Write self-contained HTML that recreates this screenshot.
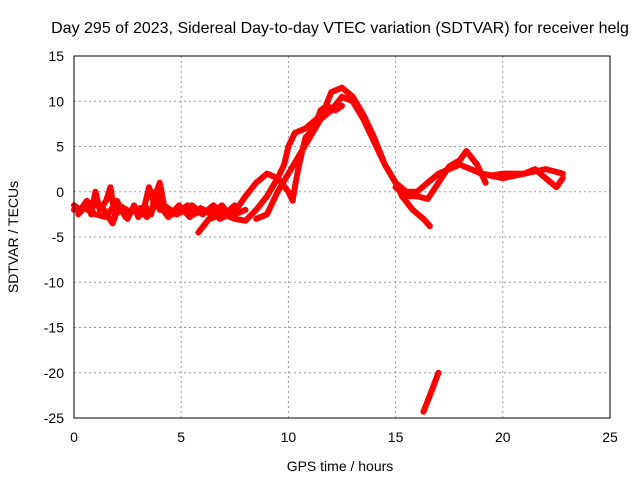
<!DOCTYPE html>
<html><head><meta charset="utf-8"><style>
body{margin:0;background:#fff}
svg{display:block;font-family:"Liberation Sans",sans-serif}
</style></head><body>
<svg id="c" width="640" height="480">
<text x="340" y="33" text-anchor="middle" font-size="16">Day 295 of 2023, Sidereal Day-to-day VTEC variation (SDTVAR) for receiver helg</text>
<text x="340" y="471" text-anchor="middle" font-size="14">GPS time / hours</text>
<text transform="translate(18,237) rotate(-90)" text-anchor="middle" font-size="14">SDTVAR / TECUs</text>
<g id="grid"></g><g id="marks"></g>
<rect x="74" y="56" width="536" height="362" fill="none" stroke="#000" stroke-width="1"/>
</svg>
<script>
const xTicks=[0,5,10,15,20,25];
const yTicks=[15,10,5,0,-5,-10,-15,-20,-25];
const trackA=[[0,-1.5],[0.3,-2],[0.6,-1],[0.8,-2.5],[1,0],[1.2,-2],[1.5,-1],[1.7,0.5],[1.9,-2.5],[2.2,-2],[2.5,-3],[2.8,-1.5],[3,-2.8],[3.3,-1.5],[3.6,-2.5],[3.8,0],[4,-2],[4.3,-1.8],[4.6,-2.5],[5,-2],[5.3,-1.5],[5.6,-2.5],[6,-2],[6.5,-2.2],[7,-2],[7.5,-2.5],[8,-2]];
const trackB=[[0,-2],[0.5,-1.8],[1,-2.5],[1.5,-2.8],[2,-1],[2.4,-2.8],[2.8,-2],[3.2,-2.5],[3.5,0.5],[3.7,-1],[4,1],[4.2,-1.5],[4.8,-2.5],[5.2,-2],[5.5,-1.5],[6,-2.5],[6.5,-1.5],[7,-2.5],[7.5,-1.5]];
const trackJ=[[0.2,-2.5],[0.7,-1.2],[1.1,-1.5],[1.4,-2],[1.8,-3.5],[2.1,-1.5],[2.6,-2.2],[3.1,-1.8],[3.4,-2.8],[3.9,-1.2],[4.4,-2.8],[4.9,-1.5],[5.4,-2.8],[5.9,-1.8],[6.4,-2.5],[6.9,-1.5],[7.3,-2.8]];
const trackC=[[5.8,-4.5],[6.3,-3],[7,-2.5],[7.5,-3],[8,-3.2],[8.5,-2],[9,-0.5],[9.5,1.5],[9.8,3],[10,5],[10.3,6.5],[10.8,7],[11.3,8],[11.8,9.5],[12.2,9],[12.5,9.5]];
const trackD=[[6.8,-3],[7.5,-2.2],[8,-0.5],[8.5,1],[9,2],[9.5,1.5],[10,0],[10.2,-1],[10.3,0.5],[10.5,3],[10.8,6],[11.2,7],[11.5,9],[11.8,9.5]];
const trackE=[[8.5,-3],[9,-2.5],[9.5,0],[10,2],[10.5,4],[11,6],[11.5,8],[12,9],[12.5,10.5],[13,10],[13.5,8],[14,5.5],[14.5,3],[15,1],[15.5,0],[16,0],[16.5,1],[17,2],[17.5,2.5],[18,3],[18.5,2.5],[19,2],[19.5,1.8],[20,2],[21,2],[22,2.5],[22.8,2]];
const trackF=[[11.5,8],[12,11],[12.5,11.5],[13,10.5],[13.5,8.5],[14,6],[14.5,3],[15,1],[15.3,-0.5],[15.8,-2],[16.3,-3],[16.6,-3.8]];
const trackG=[[15,0.5],[15.5,-0.5],[16,-0.5],[16.5,-0.8],[17,1],[17.5,2.8],[18,3.5],[18.3,4.5],[18.8,3],[19.2,1]];
const trackH=[[19,2],[20,1.5],[21,2],[21.5,2.5],[22,1.5],[22.5,0.5],[22.8,1.5]];
const trackI=[[16.3,-24.3],[16.6,-22.5],[17,-20]];
const tracks=[trackA,trackB,trackJ,trackC,trackD,trackE,trackF,trackG,trackH,trackI];
const X=h=>74+h*536/25, Y=v=>56+(15-v)*362/40;
const NS="http://www.w3.org/2000/svg";
const grid=document.getElementById('grid'), marks=document.getElementById('marks');
function mk(tag,attrs,parent){const e=document.createElementNS(NS,tag);for(const k in attrs)e.setAttribute(k,attrs[k]);parent.appendChild(e);return e;}
xTicks.forEach(t=>{
 const l=mk('line',{x1:X(t),x2:X(t),y1:56,y2:418,stroke:'#999','stroke-dasharray':'2,3'},grid);
 
 
 const tx=mk('text',{x:X(t),y:442,'text-anchor':'middle','font-size':14},grid);tx.textContent=t;
 
 
});
yTicks.forEach(t=>{
 const l=mk('line',{x1:74,x2:610,y1:Y(t),y2:Y(t),stroke:'#999','stroke-dasharray':'2,3'},grid);
 
 
 const tx=mk('text',{x:64,y:Y(t)+5,'text-anchor':'end','font-size':14},grid);tx.textContent=t;
 
 
});
tracks.forEach(tr=>{
 const p=mk('polyline',{points:tr.map(d=>X(d[0])+','+Y(d[1])).join(' '),fill:'none',stroke:'#f00','stroke-width':6,'stroke-linejoin':'round','stroke-linecap':'round'},marks);
 
 
});
</script>
</body></html>
